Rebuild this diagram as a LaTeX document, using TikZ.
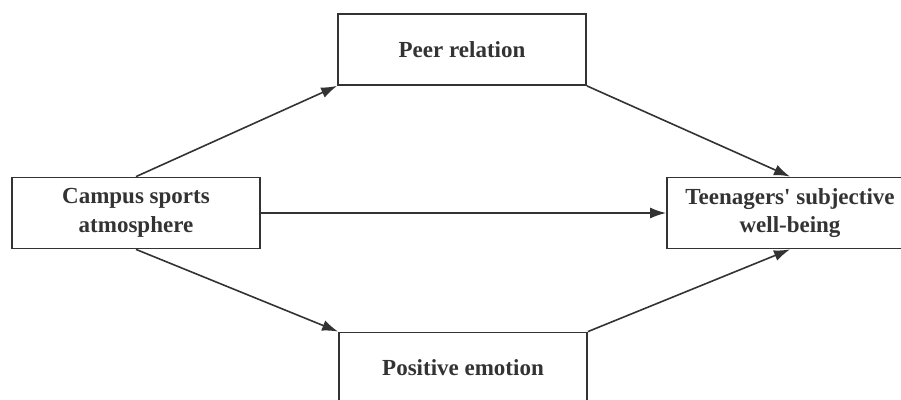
\documentclass[tikz,border=0pt]{standalone}
\usepackage{fontspec}
\newfontfamily\libserif{Liberation Serif}
\usetikzlibrary{arrows.meta}
\definecolor{ink}{HTML}{333333}
\begin{document}
\begin{tikzpicture}[x=1pt,y=-1pt,
  box/.style={draw=ink, line width=1.8pt, fill=white, rectangle, inner sep=0pt,
    minimum width=248pt, minimum height=71pt, align=center,
    text=ink, font=\libserif\bfseries\fontsize{23}{28.5}\selectfont},
  link/.style={draw=ink, line width=1.6pt, -{Latex[length=16pt,width=11pt]}}]
\useasboundingbox (0,0) rectangle (901,399);
\node[box] (peer) at (462,49.5) {Peer relation};
\node[box] (campus) at (136,213) {Campus sports\\atmosphere};
\node[box, minimum width=246pt] (teen) at (790,213) {Teenagers' subjective\\well-being};
\node[box] (pos) at (463,368) {Positive emotion};
\draw[link] (campus.north) -- (peer.south west);
\draw[link] (peer.south east) -- (teen.north);
\draw[link] (campus.east) -- (teen.west);
\draw[link] (campus.south) -- (pos.north west);
\draw[link] (pos.north east) -- (teen.south);
\end{tikzpicture}
\end{document}
